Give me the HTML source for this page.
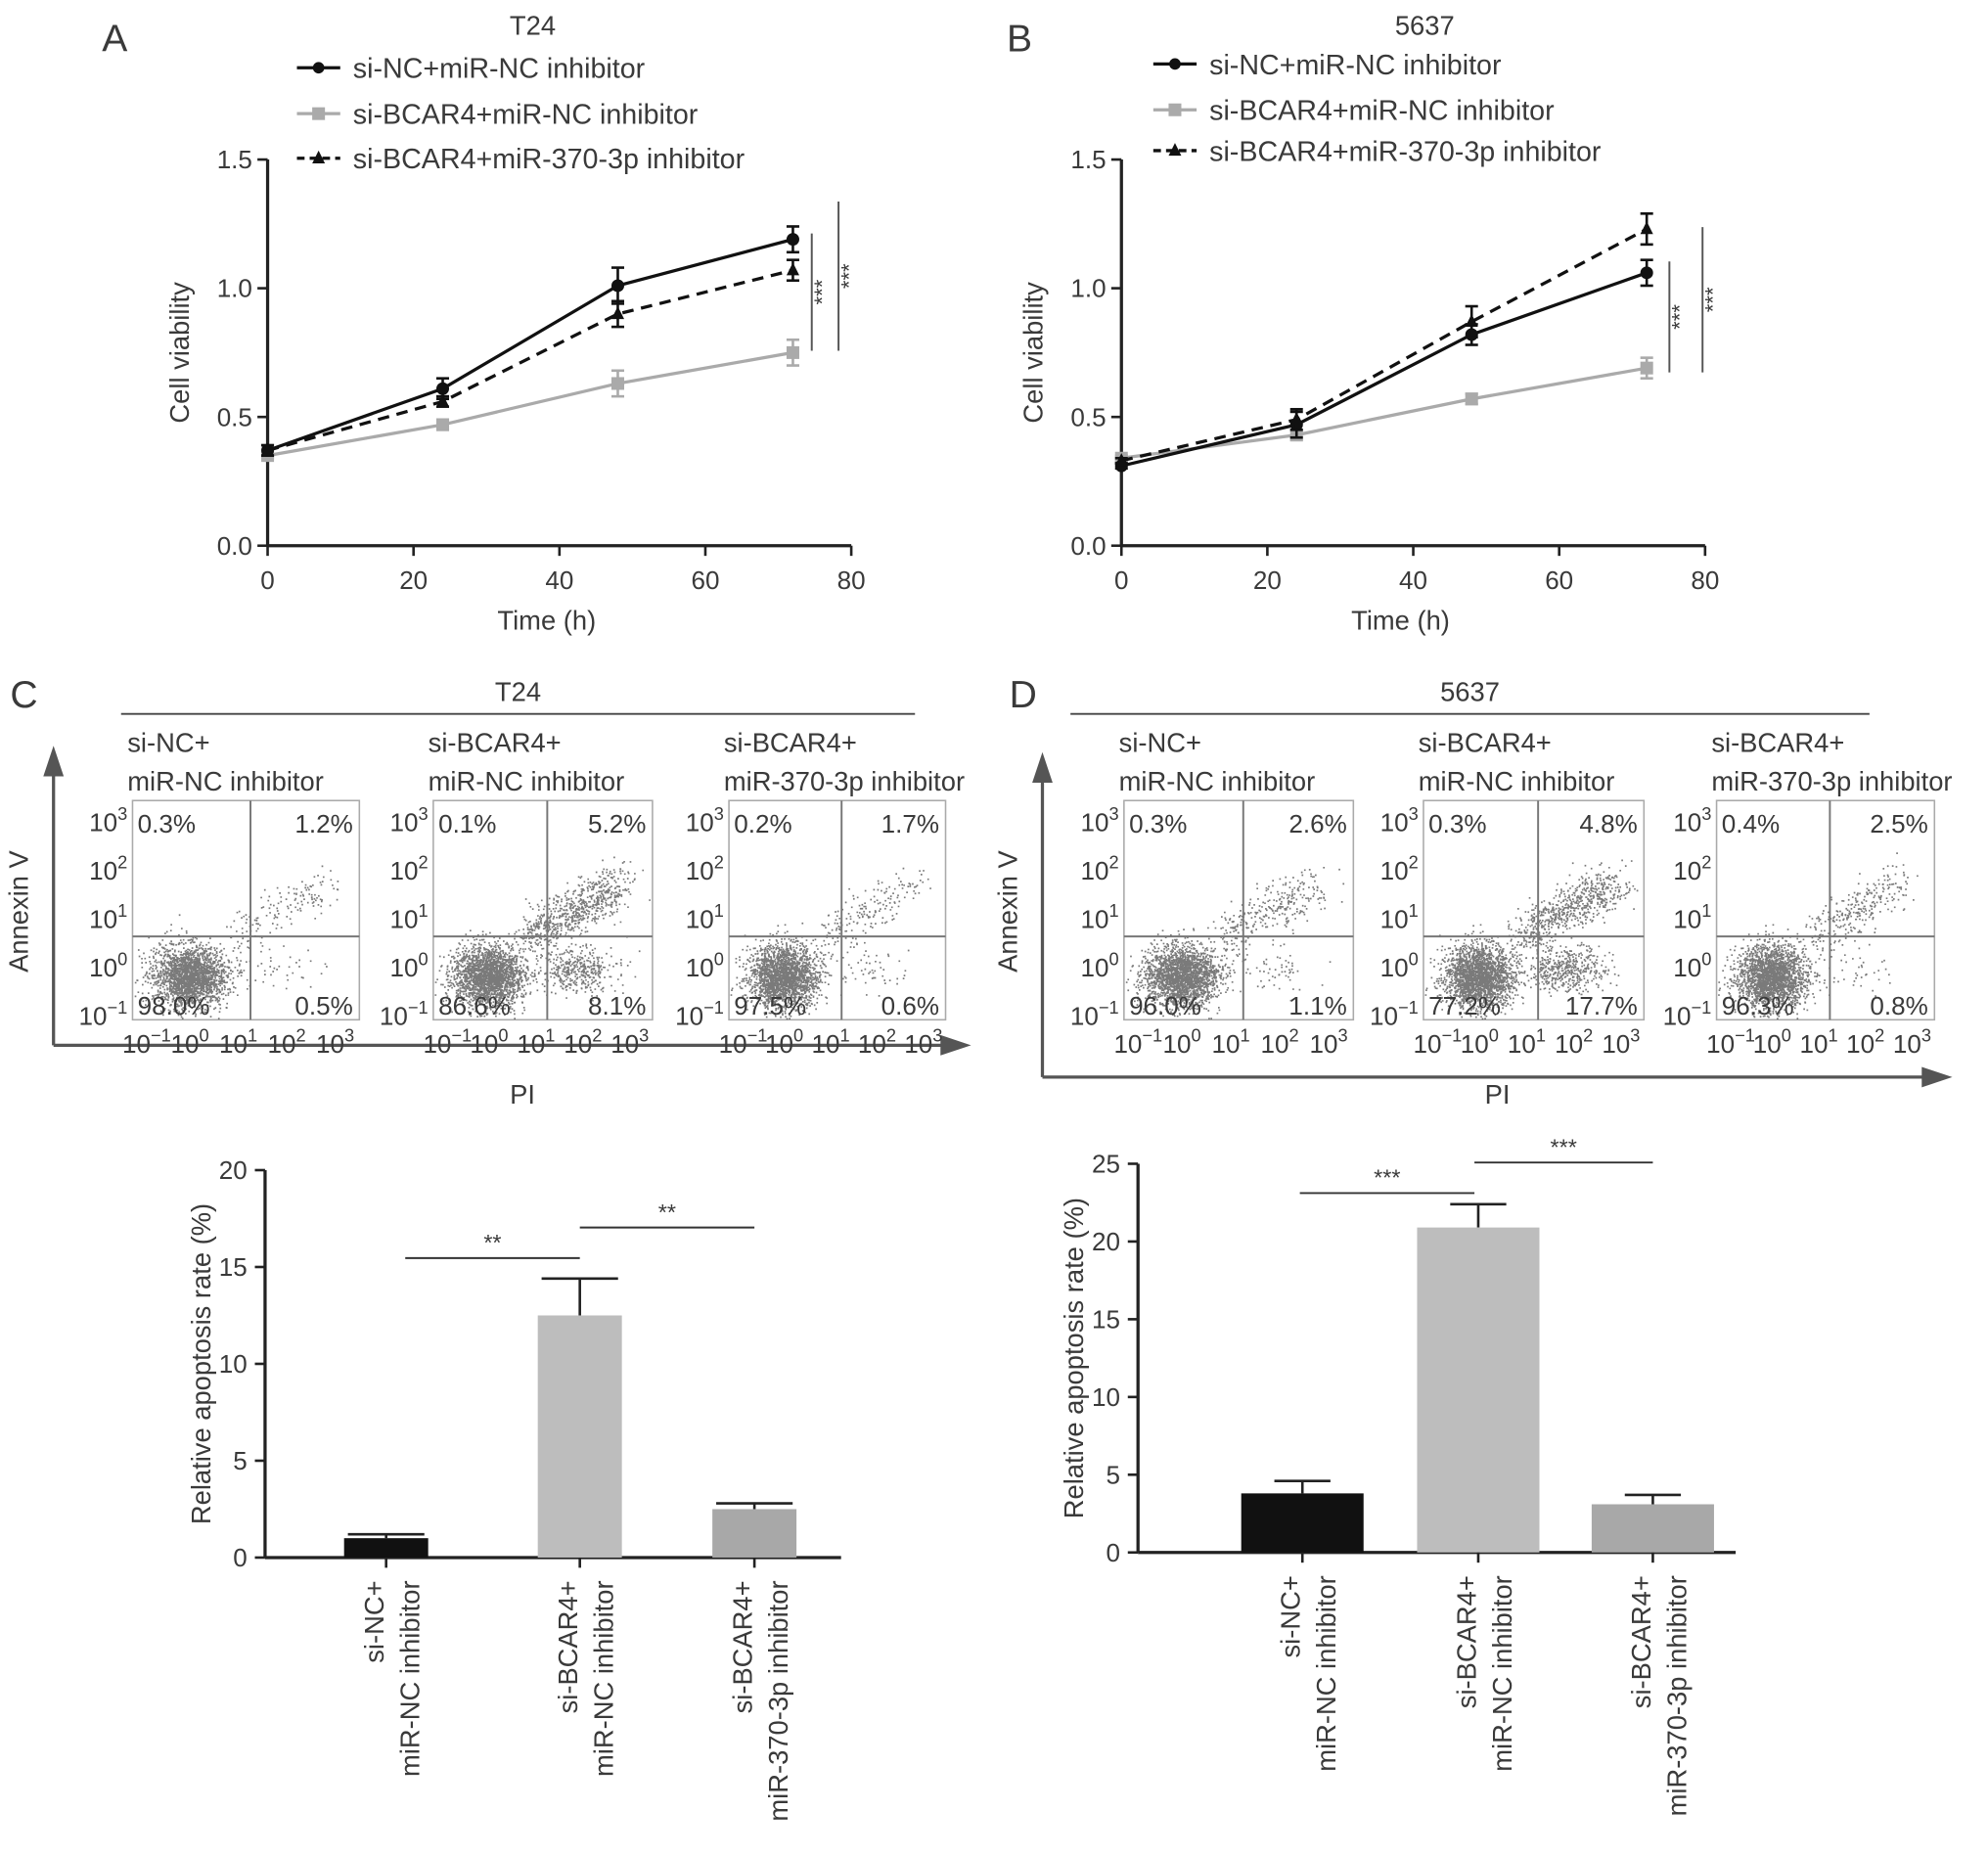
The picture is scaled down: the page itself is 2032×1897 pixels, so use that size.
<!DOCTYPE html>
<html><head><meta charset="utf-8"><style>
html,body{margin:0;padding:0;background:#fff}
svg{display:block}
text{font-family:"Liberation Sans",Arial,sans-serif;fill:#3a3a3a}
</style></head><body>
<svg id="fig" xmlns="http://www.w3.org/2000/svg" width="2032" height="1897" viewBox="0 0 1560 1456">
<rect width="1560" height="1456" fill="#fff"/>
<g id="root"></g>
</svg>
<script>
// ---- Panel A/B data ----
const timePoints=[0,24,48,72];
const seriesNames=["si-NC+miR-NC inhibitor","si-BCAR4+miR-NC inhibitor","si-BCAR4+miR-370-3p inhibitor"];
const aNC=[0.37,0.61,1.01,1.19];
const aBCAR=[0.35,0.47,0.63,0.75];
const aMiR=[0.37,0.56,0.90,1.07];
const aErrNC=[0.02,0.04,0.07,0.05];
const aErrBCAR=[0.01,0.02,0.05,0.05];
const aErrMiR=[0.02,0.02,0.05,0.04];
const bNC=[0.31,0.47,0.82,1.06];
const bBCAR=[0.34,0.43,0.57,0.69];
const bMiR=[0.33,0.49,0.87,1.23];
const bErrNC=[0.01,0.05,0.04,0.05];
const bErrBCAR=[0.01,0.02,0.02,0.04];
const bErrMiR=[0.01,0.04,0.06,0.06];
const yTicksLine=[0.0,0.5,1.0,1.5];
const xTicksLine=[0,20,40,60,80];
// ---- Panel C/D bar data ----
const barCats=[["si-NC+","miR-NC inhibitor"],["si-BCAR4+","miR-NC inhibitor"],["si-BCAR4+","miR-370-3p inhibitor"]];
const cVals=[1.0,12.5,2.5];
const cErr=[0.2,1.9,0.3];
const dVals=[3.8,20.9,3.1];
const dErr=[0.8,1.5,0.6];
const cTicks=[0,5,10,15,20];
const dTicks=[0,5,10,15,20,25];
const cFlowLabels=[["0.3%","1.2%","98.0%","0.5%"],["0.1%","5.2%","86.6%","8.1%"],["0.2%","1.7%","97.5%","0.6%"]];
const dFlowLabels=[["0.3%","2.6%","96.0%","1.1%"],["0.3%","4.8%","77.2%","17.7%"],["0.4%","2.5%","96.3%","0.8%"]];

const NS="http://www.w3.org/2000/svg";
const root=document.getElementById('root');
function el(tag,attrs,parent,txt){const e=document.createElementNS(NS,tag);for(const k in attrs)e.setAttribute(k,attrs[k]);if(txt!==undefined)e.textContent=txt;(parent||root).appendChild(e);return e;}

function linePanel(o){
  const g=el('g',{});
  
  
  const sx=v=>o.x0+(v/80)*(o.x1-o.x0);
  const sy=v=>o.y0-(v/1.5)*(o.y0-o.y1);
  const t=el('text',{x:o.letterX,y:40,'font-size':30,fill:'#222'},g,o.letter);
  
  const ti=el('text',{x:o.titleX,y:27,'font-size':21,'text-anchor':'middle'},g,o.title);
  
  el('line',{x1:o.x0,y1:o.y1,x2:o.x0,y2:o.y0,stroke:'#222','stroke-width':2.5},g);
  el('line',{x1:o.x0,y1:o.y0,x2:o.x1,y2:o.y0,stroke:'#222','stroke-width':2.5},g);
  yTicksLine.forEach(v=>{el('line',{x1:o.x0-8,y1:sy(v),x2:o.x0,y2:sy(v),stroke:'#222','stroke-width':2},g);
    const tl=el('text',{x:o.x0-12,y:sy(v)+7,'font-size':20,'text-anchor':'end'},g,v.toFixed(1));
    });
  xTicksLine.forEach(v=>{el('line',{x1:sx(v),y1:o.y0,x2:sx(v),y2:o.y0+8,stroke:'#222','stroke-width':2},g);
    const tl=el('text',{x:sx(v),y:o.y0+34,'font-size':20,'text-anchor':'middle'},g,v);
    });
  const xl=el('text',{x:(o.x0+o.x1)/2-10,y:o.y0+66,'font-size':21,'text-anchor':'middle'},g,'Time (h)');
  
  const yl=el('text',{x:0,y:0,'font-size':21,'text-anchor':'middle',transform:`translate(${o.x0-62},${(o.y0+o.y1)/2}) rotate(-90)`},g,'Cell viability');
  
  const styles=[{c:'#111',d:'',m:'dot'},{c:'#aaa',d:'',m:'sq'},{c:'#111',d:'9,6',m:'tri'}];
  const order=[1,0,2];
  order.forEach(i=>{
    const vals=o.data[i],errs=o.err[i],s=styles[i];
    const sg=el('g',{},g);
    
    
    el('polyline',{points:vals.map((v,k)=>sx(timePoints[k])+','+sy(v)).join(' '),fill:'none',stroke:s.c,'stroke-width':2.5,'stroke-dasharray':s.d},sg);
    vals.forEach((v,k)=>{const x=sx(timePoints[k]);
      el('line',{x1:x,y1:sy(v-errs[k]),x2:x,y2:sy(v+errs[k]),stroke:s.c,'stroke-width':2},sg);
      [v-errs[k],v+errs[k]].forEach(e=>el('line',{x1:x-5,y1:sy(e),x2:x+5,y2:sy(e),stroke:s.c,'stroke-width':2},sg));
      let m;
      if(s.m==='dot')m=el('circle',{cx:x,cy:sy(v),r:5,fill:s.c},sg);
      else if(s.m==='sq')m=el('rect',{x:x-5,y:sy(v)-5,width:10,height:10,fill:s.c},sg);
      else m=el('path',{d:`M${x},${sy(v)-6}L${x+5},${sy(v)+4}L${x-5},${sy(v)+4}Z`,fill:s.c},sg);
      
    });
  });
  seriesNames.forEach((n,i)=>{const s=styles[i];const ly=o.legY[i];
    const lg=el('g',{},g);
    el('line',{x1:o.legX,y1:ly,x2:o.legX+34,y2:ly,stroke:s.c,'stroke-width':2.5,'stroke-dasharray':s.d?'6,4':''},lg);
    const mx=o.legX+17;
    if(s.m==='dot')el('circle',{cx:mx,cy:ly,r:4.5,fill:s.c},lg);
    else if(s.m==='sq')el('rect',{x:mx-5,y:ly-5,width:10,height:10,fill:s.c},lg);
    else el('path',{d:`M${mx},${ly-6}L${mx+5},${ly+4}L${mx-5},${ly+4}Z`,fill:s.c},lg);
    el('text',{x:o.legX+44,y:ly+8,'font-size':22},lg,n);});
  o.sig.forEach(s=>{el('line',{x1:s.x,y1:s.t,x2:s.x,y2:s.b,stroke:'#555','stroke-width':1.5},g);
    const st=el('text',{x:0,y:0,'font-size':17,'text-anchor':'middle',transform:`translate(${s.x+14},${(s.t+s.b)/2}) rotate(-90)`},g,'***');
    });
}
linePanel({name:'panel-a-t24-viability',letter:'A',letterX:80,title:'T24',titleX:418,x0:210,x1:668,y0:428,y1:125,
  data:[aNC,aBCAR,aMiR],err:[aErrNC,aErrBCAR,aErrMiR],legX:233,legY:[53,89,124],
  sig:[{x:637,t:183,b:275},{x:658,t:158,b:275}]});
linePanel({name:'panel-b-5637-viability',letter:'B',letterX:790,title:'5637',titleX:1118,x0:880,x1:1338,y0:428,y1:125,
  data:[bNC,bBCAR,bMiR],err:[bErrNC,bErrBCAR,bErrMiR],legX:905,legY:[50,86,118],
  sig:[{x:1310,t:205,b:292},{x:1336,t:178,b:292}]});

// ---- flow cytometry (dot cloud is a deterministic texture) ----
let seed=12345;function rnd(){seed=(seed*1103515245+12345)%2147483648;return seed/2147483648;}
function gauss(){return Math.sqrt(-2*Math.log(rnd()+1e-9))*Math.cos(2*Math.PI*rnd());}
function sup(parent,x,y,exp,anchor){const t=el('text',{x:x,y:y,'font-size':20,'text-anchor':anchor||'start'},parent);
  el('tspan',{},t,'10');el('tspan',{dy:-9,'font-size':14},t,exp);return t;}
function flowPanel(o){
  const g=el('g',{});
  const t=el('text',{x:o.letterX,y:555,'font-size':30,fill:'#222'},g,o.letter);
  
  el('line',{x1:o.lineX0,y1:560,x2:o.lineX1,y2:560,stroke:'#444','stroke-width':1.5},g);
  const tt=el('text',{x:(o.lineX0+o.lineX1)/2,y:550,'font-size':21,'text-anchor':'middle'},g,o.title);
  
  el('line',{x1:o.ax,y1:o.ay,x2:o.ax,y2:o.atop+20,stroke:'#555','stroke-width':2.5},g);
  el('path',{d:`M${o.ax},${o.atop}L${o.ax+8},${o.atop+24}L${o.ax-8},${o.atop+24}Z`,fill:'#555'},g);
  el('line',{x1:o.ax,y1:o.ay,x2:o.aright-20,y2:o.ay,stroke:'#555','stroke-width':2.5},g);
  el('path',{d:`M${o.aright},${o.ay}L${o.aright-24},${o.ay-8}L${o.aright-24},${o.ay+8}Z`,fill:'#555'},g);
  const av=el('text',{x:0,y:0,'font-size':21,'text-anchor':'middle',transform:`translate(${o.ax-20},${o.annY}) rotate(-90)`},g,'Annexin V');
  
  const pi=el('text',{x:o.piX,y:866,'font-size':21,'text-anchor':'middle'},g,'PI');
  
  o.boxes.forEach((b,i)=>{
    const bg=el('g',{},g);
    el('text',{x:b.x0-4,y:b.y0-38,'font-size':21},bg,barCats[i][0]);
    el('text',{x:b.x0-4,y:b.y0-8,'font-size':21},bg,barCats[i][1]);
    el('rect',{x:b.x0,y:b.y0,width:b.x1-b.x0,height:b.y1-b.y0,fill:'none',stroke:'#aaa','stroke-width':1.2},bg);
    const gx=b.x0+(b.x1-b.x0)*0.52,gy=b.y0+(b.y1-b.y0)*0.62;
    const cx=b.x0+(b.x1-b.x0)*0.25,cy=b.y0+(b.y1-b.y0)*0.8,w=b.x1-b.x0,h=b.y1-b.y0;
    let d='';
    const add=(x,y)=>{if(x>b.x0+1&&x<b.x1-1&&y>b.y0+1&&y<b.y1-1)d+=`M${x.toFixed(1)},${y.toFixed(1)}h1.3v1.3h-1.3z`;};
    for(let k=0;k<2200;k++)add(cx+gauss()*w*0.08,cy+gauss()*h*0.07);
    for(let k=0;k<b.up;k++){const u=rnd();add(gx-w*0.08+u*w*0.42+gauss()*w*0.05,gy-u*h*0.25+gauss()*h*0.05);}
    for(let k=0;k<b.lr;k++)add(b.x0+w*0.65+gauss()*w*0.09,cy-h*0.03+gauss()*h*0.05);
    el('path',{d:d,fill:'#222','fill-opacity':0.6},bg);
    el('line',{x1:gx,y1:b.y0,x2:gx,y2:b.y1,stroke:'#777','stroke-width':1.5},bg);
    el('line',{x1:b.x0,y1:gy,x2:b.x1,y2:gy,stroke:'#777','stroke-width':1.5},bg);
    const L=o.labels[i];
    el('text',{x:b.x0+4,y:b.y0+25,'font-size':20},bg,L[0]);
    el('text',{x:b.x1-5,y:b.y0+25,'font-size':20,'text-anchor':'end'},bg,L[1]);
    el('text',{x:b.x0+4,y:b.y1-4,'font-size':20},bg,L[2]);
    el('text',{x:b.x1-5,y:b.y1-4,'font-size':20,'text-anchor':'end'},bg,L[3]);
    ['3','2','1','0','−1'].forEach((e,k)=>sup(bg,b.x0-4,b.y0+24+k*38,e,'end'));
    ['−1','0','1','2','3'].forEach((e,k)=>sup(bg,b.x0-8+k*(w+12)/5,b.y1+26,e,'start'));
  });
}
flowPanel({name:'panel-c-t24-flow',letter:'C',letterX:8,lineX0:95,lineX1:718,title:'T24',ax:42,ay:820,atop:585,aright:762,annY:715,piX:410,
  labels:cFlowLabels,boxes:[{x0:104,x1:282,y0:628,y1:800,up:150,lr:40},{x0:340,x1:512,y0:628,y1:800,up:700,lr:400},{x0:572,x1:742,y0:628,y1:800,up:180,lr:50}]});
flowPanel({name:'panel-d-5637-flow',letter:'D',letterX:792,lineX0:840,lineX1:1467,title:'5637',ax:818,ay:845,atop:590,aright:1532,annY:715,piX:1175,
  labels:dFlowLabels,boxes:[{x0:882,x1:1062,y0:628,y1:800,up:300,lr:60},{x0:1117,x1:1290,y0:628,y1:800,up:650,lr:450},{x0:1347,x1:1518,y0:628,y1:800,up:280,lr:40}]});

// ---- bar charts ----
function barPanel(o){
  const g=el('g',{});
  const sy=v=>o.y0-(v/o.max)*(o.y0-o.y1);
  el('line',{x1:o.x0,y1:o.y1,x2:o.x0,y2:o.y0,stroke:'#222','stroke-width':2.5},g);
  el('line',{x1:o.x0,y1:o.y0,x2:o.x1,y2:o.y0,stroke:'#222','stroke-width':2.5},g);
  o.ticks.forEach(v=>{el('line',{x1:o.x0-8,y1:sy(v),x2:o.x0,y2:sy(v),stroke:'#222','stroke-width':2},g);
    const tl=el('text',{x:o.x0-14,y:sy(v)+7,'font-size':20,'text-anchor':'end'},g,v);
    });
  const yl=el('text',{x:0,y:0,'font-size':21,'text-anchor':'middle',transform:`translate(${o.x0-43},${(o.y0+o.y1)/2}) rotate(-90)`},g,'Relative apoptosis rate (%)');
  
  const colors=['#111','#bdbdbd','#a8a8a8'];
  o.vals.forEach((v,i)=>{const c=o.centers[i],bw=o.bw;
    el('line',{x1:c,y1:sy(v),x2:c,y2:sy(v+o.err[i]),stroke:'#222','stroke-width':2},g);
    el('line',{x1:c-o.cap,y1:sy(v+o.err[i]),x2:c+o.cap,y2:sy(v+o.err[i]),stroke:'#222','stroke-width':2},g);
    const r=el('rect',{x:c-bw/2,y:sy(v),width:bw,height:o.y0-sy(v),fill:colors[i]},g);
    
    el('line',{x1:c,y1:o.y0,x2:c,y2:o.y0+8,stroke:'#222','stroke-width':2},g);
    const tl=el('text',{x:0,y:0,'font-size':21,'text-anchor':'end',transform:`translate(${c},${o.y0+18}) rotate(-90)`},g);
    
    el('tspan',{x:0,dy:-2},tl,barCats[i][0]);
    el('text',{x:0,y:0,'font-size':21,'text-anchor':'end',transform:`translate(${c+26},${o.y0+18}) rotate(-90)`},g,barCats[i][1]);
  });
  o.sig.forEach(s=>{el('line',{x1:s.a,y1:s.y,x2:s.b,y2:s.y,stroke:'#333','stroke-width':1.5},g);
    const st=el('text',{x:(s.a+s.b)/2,y:s.y-6,'font-size':18,'text-anchor':'middle'},g,s.t);
    });
}
barPanel({name:'panel-c-apoptosis-bars',x0:208,x1:660,y0:1222,y1:918,max:20,ticks:cTicks,vals:cVals,err:cErr,
  centers:[303,455,592],bw:66,cap:30,sig:[{a:318,b:455,y:987,t:'**'},{a:455,b:592,y:963,t:'**'}]});
barPanel({name:'panel-d-apoptosis-bars',x0:893,x1:1362,y0:1218,y1:913,max:25,ticks:dTicks,vals:dVals,err:dErr,
  centers:[1022,1160,1297],bw:96,cap:22,sig:[{a:1020,b:1157,y:936,t:'***'},{a:1157,b:1297,y:912,t:'***'}]});
</script>
</body></html>
